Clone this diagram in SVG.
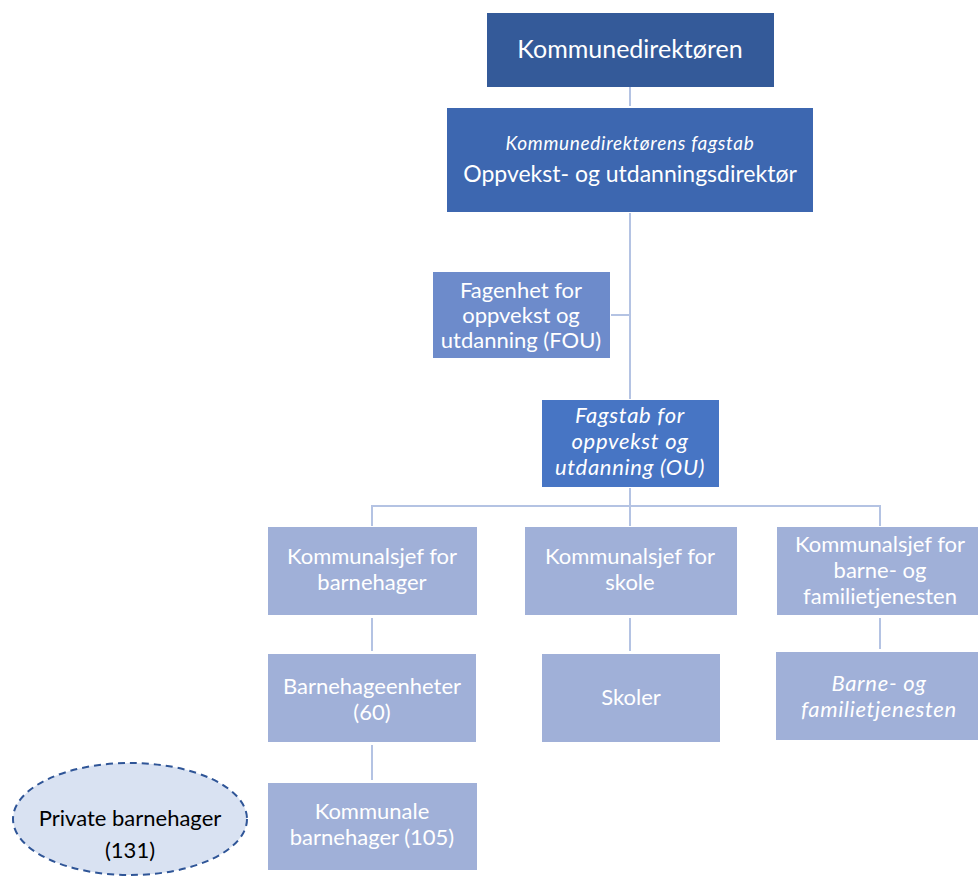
<svg xmlns="http://www.w3.org/2000/svg" width="978" height="877" viewBox="0 0 978 877">
<style>
text{font-family:Lato,"Open Sans","Liberation Sans",sans-serif;fill:#fff;text-anchor:middle;font-size:22px}
.it{font-style:italic;letter-spacing:0.7px}
.dk{fill:#000}
.lt{fill:#a0b0d8}
.cn{stroke:#b4c3e3;stroke-width:2;fill:none}
</style>
<g id="connectors">
<line class="cn" x1="630" y1="87" x2="630" y2="106"/>
<line class="cn" x1="630" y1="213" x2="630" y2="399"/>
<line class="cn" x1="611" y1="315" x2="630" y2="315"/>
<line class="cn" x1="630" y1="488" x2="630" y2="506"/>
<polyline class="cn" points="372,526 372,506 880,506 880,526"/>
<line class="cn" x1="630" y1="506" x2="630" y2="526"/>
<line class="cn" x1="372" y1="618" x2="372" y2="651"/>
<line class="cn" x1="630" y1="618" x2="630" y2="651"/>
<line class="cn" x1="880" y1="618" x2="880" y2="649"/>
<line class="cn" x1="372" y1="745" x2="372" y2="780"/>
</g>
<g id="n1"><rect x="487" y="13" width="287" height="74" fill="#345a99"/><text x="630" y="58" style="font-size:25px">Kommunedirektøren</text></g>
<g id="n2"><rect x="447" y="108" width="366" height="104" fill="#3d67b0"/><text class="it" x="630" y="150" style="font-size:19px">Kommunedirektørens fagstab</text><text x="630" y="182" style="font-size:23px">Oppvekst- og utdanningsdirektør</text></g>
<g id="fou"><rect x="433" y="272" width="177" height="86" fill="#6d8bcb"/><text x="521" y="298">Fagenhet for</text><text x="521" y="323">oppvekst og</text><text x="521" y="348">utdanning (FOU)</text></g>
<g id="ou"><rect x="542" y="400" width="177" height="87" fill="#4775c4"/><text class="it" x="630" y="423">Fagstab for</text><text class="it" x="630" y="449">oppvekst og</text><text class="it" x="630" y="475">utdanning (OU)</text></g>
<g id="kb"><rect class="lt" x="268" y="527" width="209" height="88"/><text x="372" y="564">Kommunalsjef for</text><text x="372" y="590">barnehager</text></g>
<g id="ks"><rect class="lt" x="525" y="527" width="212" height="88"/><text x="630" y="564">Kommunalsjef for</text><text x="630" y="590">skole</text></g>
<g id="kf"><rect class="lt" x="777" y="527" width="201" height="88"/><text x="880" y="552">Kommunalsjef for</text><text x="880" y="578">barne- og</text><text x="880" y="604">familietjenesten</text></g>
<g id="be"><rect class="lt" x="268" y="654" width="208" height="88"/><text x="372" y="694">Barnehageenheter</text><text x="372" y="720">(60)</text></g>
<g id="sk"><rect class="lt" x="542" y="654" width="178" height="88"/><text x="631" y="705">Skoler</text></g>
<g id="bf"><rect class="lt" x="776" y="652" width="202" height="88"/><text class="it" x="879" y="691">Barne- og</text><text class="it" x="879" y="717">familietjenesten</text></g>
<g id="kbh"><rect class="lt" x="268" y="783" width="209" height="87"/><text x="372" y="819">Kommunale</text><text x="372" y="845">barnehager (105)</text></g>
<g id="pb"><ellipse cx="130" cy="819" rx="117" ry="56" fill="#d9e2f2" stroke="#2f5597" stroke-width="2" stroke-dasharray="7,5"/><text class="dk" x="130" y="826">Private barnehager</text><text class="dk" x="130" y="858">(131)</text></g>
</svg>
